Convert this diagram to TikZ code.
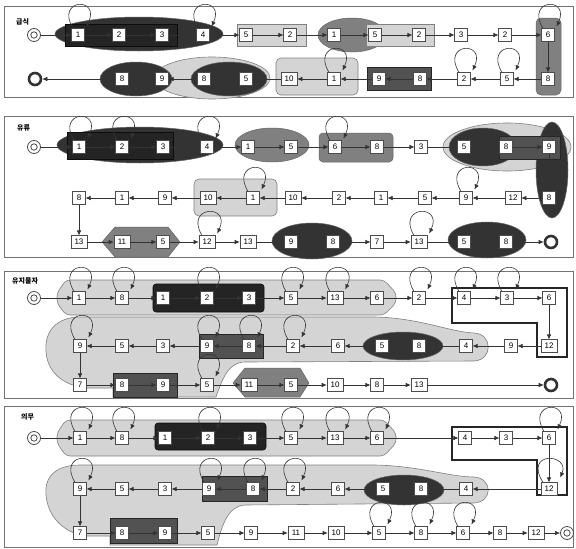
\documentclass[tikz,border=0pt]{standalone}
\usepackage{fontspec}
\setmainfont{Liberation Sans}
\newfontfamily\krfont{Noto Sans CJK KR}
\usetikzlibrary{arrows.meta}
\newcommand\selfloop[1]{\draw[arr] ([xshift=-5pt]#1.north) .. controls +(-18pt,30pt) and +(14pt,30pt) .. ([xshift=2pt,yshift=2pt]#1.north east);}
\begin{document}
\begin{tikzpicture}[x=1pt,y=-1pt,
  nbox/.style={draw=black!70, fill=white, line width=0.6pt, minimum width=12.5pt, minimum height=12.5pt, inner sep=0.5pt, font=\fontsize{8}{8}\selectfont},
  wbox/.style={nbox, minimum width=16pt},
  arr/.style={-{Latex[length=5pt,width=4.5pt]}, draw=black!80, line width=0.6pt},
  startsym/.style={circle, draw=black!70, line width=0.8pt, fill=white, minimum size=13pt, inner sep=0pt, path picture={\draw[black!70, line width=0.8pt] (path picture bounding box.center) circle (3.2pt);}},
  endsym/.style={circle, draw=black!80, line width=2.6pt, fill=white, minimum size=12pt, inner sep=0pt},
  panel/.style={draw=black!55, line width=0.9pt},
  dark/.style={fill=black!80, draw=black!60, line width=0.5pt},
  darker/.style={fill=black!86, draw=black!95, line width=0.6pt},
  dgray/.style={fill=black!68, draw=black!85, line width=0.7pt},
  mid/.style={fill=black!50, draw=black!60, line width=0.5pt},
  light/.style={fill=black!17, draw=black!50, line width=0.6pt},
  lab/.style={font=\krfont\bfseries\fontsize{7}{7}\selectfont, anchor=west, inner sep=0pt},
  frame/.style={draw=black!85, line width=2pt},
]
\useasboundingbox (0,0) rectangle (576,549);
\fill[white] (0,0) rectangle (576,549);
% panels
\draw[panel] (4,6) rectangle (573,97);
\draw[panel] (4,116) rectangle (573,257);
\draw[panel] (4,271) rectangle (573,398);
\draw[panel] (4,406) rectangle (573,547);

% ---------- panel 1 groups ----------
\path[dark] (139,34) ellipse [x radius=84pt, y radius=17pt];
\path[darker] (65,24) rectangle (177,46);
\path[light] (237,24) rectangle (306,46);
\path[mid] (352,35) ellipse [x radius=34pt, y radius=17pt];
\path[light] (366,24) rectangle (434,46);
\path[mid, rounded corners=5pt] (536,18) rectangle (561,95);
\path[light, rounded corners=5pt] (276,58) rectangle (358,95);
\path[dgray] (367,67) rectangle (431,90);
\path[light] (212,78) ellipse [x radius=58pt, y radius=21pt];
\path[dark] (136,79) ellipse [x radius=36pt, y radius=17pt];
\path[dark] (229,79) ellipse [x radius=38pt, y radius=17pt];

% ---------- panel 2 groups ----------
\path[dark] (140,145) ellipse [x radius=83pt, y radius=18pt];
\path[darker] (67,132) rectangle (173,159);
\path[mid] (272,145) ellipse [x radius=37pt, y radius=17pt];
\path[mid, rounded corners=4pt] (319,133) rectangle (393,162);
\path[light] (507,147) ellipse [x radius=64pt, y radius=24pt];
\path[dark] (552,170) ellipse [x radius=16pt, y radius=48pt];
\path[dark] (483,147) ellipse [x radius=34pt, y radius=19pt];
\path[dgray] (499,136) rectangle (560,159);
\path[light, rounded corners=5pt] (194,179) rectangle (277,216);
\path[mid] (102,242) -- (115,227) -- (168,227) -- (180,242) -- (168,257) -- (115,257) -- cycle;
\path[dark] (312,241) ellipse [x radius=40pt, y radius=18pt];
\path[dark] (487,240) ellipse [x radius=39pt, y radius=18pt];

% ---------- panel 3 groups ----------
\path[light, rounded corners=4pt] (66,280) -- (384,280) -- (396,293) -- (396,303) -- (384,315) -- (66,315) -- (57,303) -- (57,293) -- cycle;
\path[darker, rounded corners=3pt] (153,284) rectangle (264,312);
\path[light] (80,317) -- (375,317) .. controls (420,318) and (450,332) .. (474,333) .. controls (493,334) and (493,360) .. (474,361) -- (245,362) .. controls (228,362) and (222,380) .. (216,397) -- (113,397) -- (113,388) -- (86,388) .. controls (68,386) and (48,376) .. (46,352) .. controls (44,330) and (58,317) .. (80,317) -- cycle;
\path[dgray] (199,334) rectangle (263,358);
\path[dark] (403,346) ellipse [x radius=40pt, y radius=14pt];
\path[dgray] (113,373) rectangle (177,397);
\path[mid] (233,383) -- (245,368) -- (300,368) -- (309,383) -- (300,397) -- (245,397) -- cycle;
\draw[frame] (452,288) -- (567,288) -- (567,357) -- (537,357) -- (537,323) -- (452,323) -- cycle;

% ---------- panel 4 groups ----------
\path[light, rounded corners=4pt] (66,420) -- (384,420) -- (396,433) -- (396,443) -- (384,456) -- (66,456) -- (57,443) -- (57,433) -- cycle;
\path[darker, rounded corners=3pt] (155,423) rectangle (266,450);
\path[light] (80,465) -- (375,465) .. controls (420,466) and (450,477) .. (474,477) .. controls (493,478) and (493,502) .. (474,503) -- (245,505) .. controls (228,506) and (222,525) .. (217,545) -- (110,545) -- (110,536) -- (86,536) .. controls (68,534) and (48,520) .. (46,495) .. controls (44,475) and (58,465) .. (80,465) -- cycle;
\path[dgray] (202,476) rectangle (267,501);
\path[dark] (404,490) ellipse [x radius=40pt, y radius=15pt];
\path[dgray] (110,518) rectangle (177,543);
\draw[frame] (452,427) -- (567,427) -- (567,495) -- (537,495) -- (537,460) -- (452,460) -- cycle;

% labels
\node[lab] (la) at (16,22) {급식};
\node[lab] (lb) at (17,128) {유류};
\node[lab] (lc) at (12,281) {유지물자};
\node[lab] (ld) at (21,417) {의무};

% ---------- panel 1 nodes ----------
\node[startsym] (a0) at (34,35) {};
\foreach \n/\x/\t in {1/78/1,2/119/2,3/162/3,4/203/4,5/246/5,6/290/2,7/334/1,8/375/5,9/419/2,10/461/3,11/505/2,12/548/6}
  {\node[nbox] (a\n) at (\x,35) {\t};}
\foreach \n/\x/\t in {13/548/8,14/507/5,15/464/2,16/420/8,17/379/9,18/334/1,20/246/5,21/204/8,22/162/9,23/122/8}
  {\node[nbox] (a\n) at (\x,79) {\t};}
\node[wbox] (a19) at (289,79) {10};
\node[endsym] (aE) at (35,79) {};
\foreach \i [evaluate=\i as \j using int(\i+1)] in {0,...,22}
  {\draw[arr] (a\i) -- (a\j);}
\draw[arr] (a23) -- (aE);
\foreach \n in {a1,a4,a12,a18,a15,a14} {\selfloop{\n}}

% ---------- panel 2 nodes ----------
\node[startsym] (b0) at (34,147) {};
\foreach \n/\x/\t in {1/79/1,2/122/2,3/163/3,4/207/4,5/248/1,6/291/5,7/335/6,8/377/8,9/421/3,10/464/5,11/506/8,12/549/9}
  {\node[nbox] (b\n) at (\x,147) {\t};}
\foreach \n/\x/\t in {13/549/8,15/466/9,16/425/5,17/381/1,18/339/2,20/253/1,22/165/9,23/122/1,24/79/8}
  {\node[nbox] (b\n) at (\x,198) {\t};}
\foreach \n/\x/\t in {14/513/12,19/293/10,21/208/10}
  {\node[wbox] (b\n) at (\x,198) {\t};}
\foreach \n/\x/\t in {27/163/5,30/291/9,31/333/8,32/377/7,34/464/5,35/506/8}
  {\node[nbox] (b\n) at (\x,242) {\t};}
\foreach \n/\x/\t in {25/79/13,26/122/11,28/207/12,29/248/13,33/419/13}
  {\node[wbox] (b\n) at (\x,242) {\t};}
\node[endsym] (bE) at (551,242) {};
\foreach \i [evaluate=\i as \j using int(\i+1)] in {0,...,34}
  {\draw[arr] (b\i) -- (b\j);}
\draw[arr] (b35) -- (bE);
\foreach \n in {b1,b2,b4,b7,b20,b15,b28,b33} {\selfloop{\n}}

% ---------- panel 3 nodes ----------
\node[startsym] (c0) at (34,298) {};
\foreach \n/\x/\t in {1/79/1,2/122/8,3/163/1,4/207/2,5/249/3,6/291/5,8/377/6,9/419/2,10/464/4,11/507/3,12/549/6}
  {\node[nbox] (c\n) at (\x,298) {\t};}
\node[wbox] (c7) at (335,298) {13};
\foreach \n/\x/\t in {14/511/9,15/466/4,16/419/8,17/382/5,18/338/6,19/293/2,20/249/8,21/207/9,22/163/3,23/122/5,24/80/9}
  {\node[nbox] (c\n) at (\x,346) {\t};}
\node[wbox] (c13) at (549,346) {12};
\foreach \n/\x/\t in {25/80/7,26/122/8,27/163/9,28/207/5,30/291/5,32/377/8}
  {\node[nbox] (c\n) at (\x,385) {\t};}
\foreach \n/\x/\t in {29/249/11,31/335/10,33/419/13}
  {\node[wbox] (c\n) at (\x,385) {\t};}
\node[endsym] (cE) at (551,385) {};
\foreach \i [evaluate=\i as \j using int(\i+1)] in {0,...,32}
  {\draw[arr] (c\i) -- (c\j);}
\draw[arr] (c33) -- (cE);
\foreach \n in {c1,c2,c4,c6,c7,c9,c10,c11,c24,c21,c20,c19,c28} {\selfloop{\n}}

% ---------- panel 4 nodes ----------
\node[startsym] (d0) at (34,438) {};
\foreach \n/\x/\t in {1/80/1,2/122/8,3/165/1,4/208/2,5/250/3,6/291/5,8/377/6,9/465/4,10/506/3,11/549/6}
  {\node[nbox] (d\n) at (\x,438) {\t};}
\node[wbox] (d7) at (335,438) {13};
\foreach \n/\x/\t in {13/466/4,14/421/8,15/383/5,16/338/6,17/293/2,18/253/8,19/209/9,20/165/3,21/122/5,22/80/9}
  {\node[nbox] (d\n) at (\x,489) {\t};}
\node[wbox] (d12) at (549,489) {12};
\foreach \n/\x/\t in {23/80/7,24/122/8,25/165/9,26/208/5,27/251/9,30/379/5,31/421/8,32/463/6,33/500/8}
  {\node[nbox] (d\n) at (\x,533) {\t};}
\foreach \n/\x/\t in {28/296/11,29/336/10,34/536/12}
  {\node[wbox] (d\n) at (\x,533) {\t};}
\node[startsym] (dE) at (567,533) {};
\foreach \i [evaluate=\i as \j using int(\i+1)] in {0,...,33}
  {\draw[arr] (d\i) -- (d\j);}
\draw[arr] (d34) -- (dE);
\foreach \n in {d1,d2,d4,d6,d7,d8,d11,d22,d19,d18,d17,d30,d31,d32} {\selfloop{\n}}
\draw[arr] ([xshift=-6pt]d12.north) .. controls +(-20pt,32pt) and +(10pt,24pt) .. ([xshift=3pt,yshift=5pt]d12.north east);
\end{tikzpicture}
\end{document}
